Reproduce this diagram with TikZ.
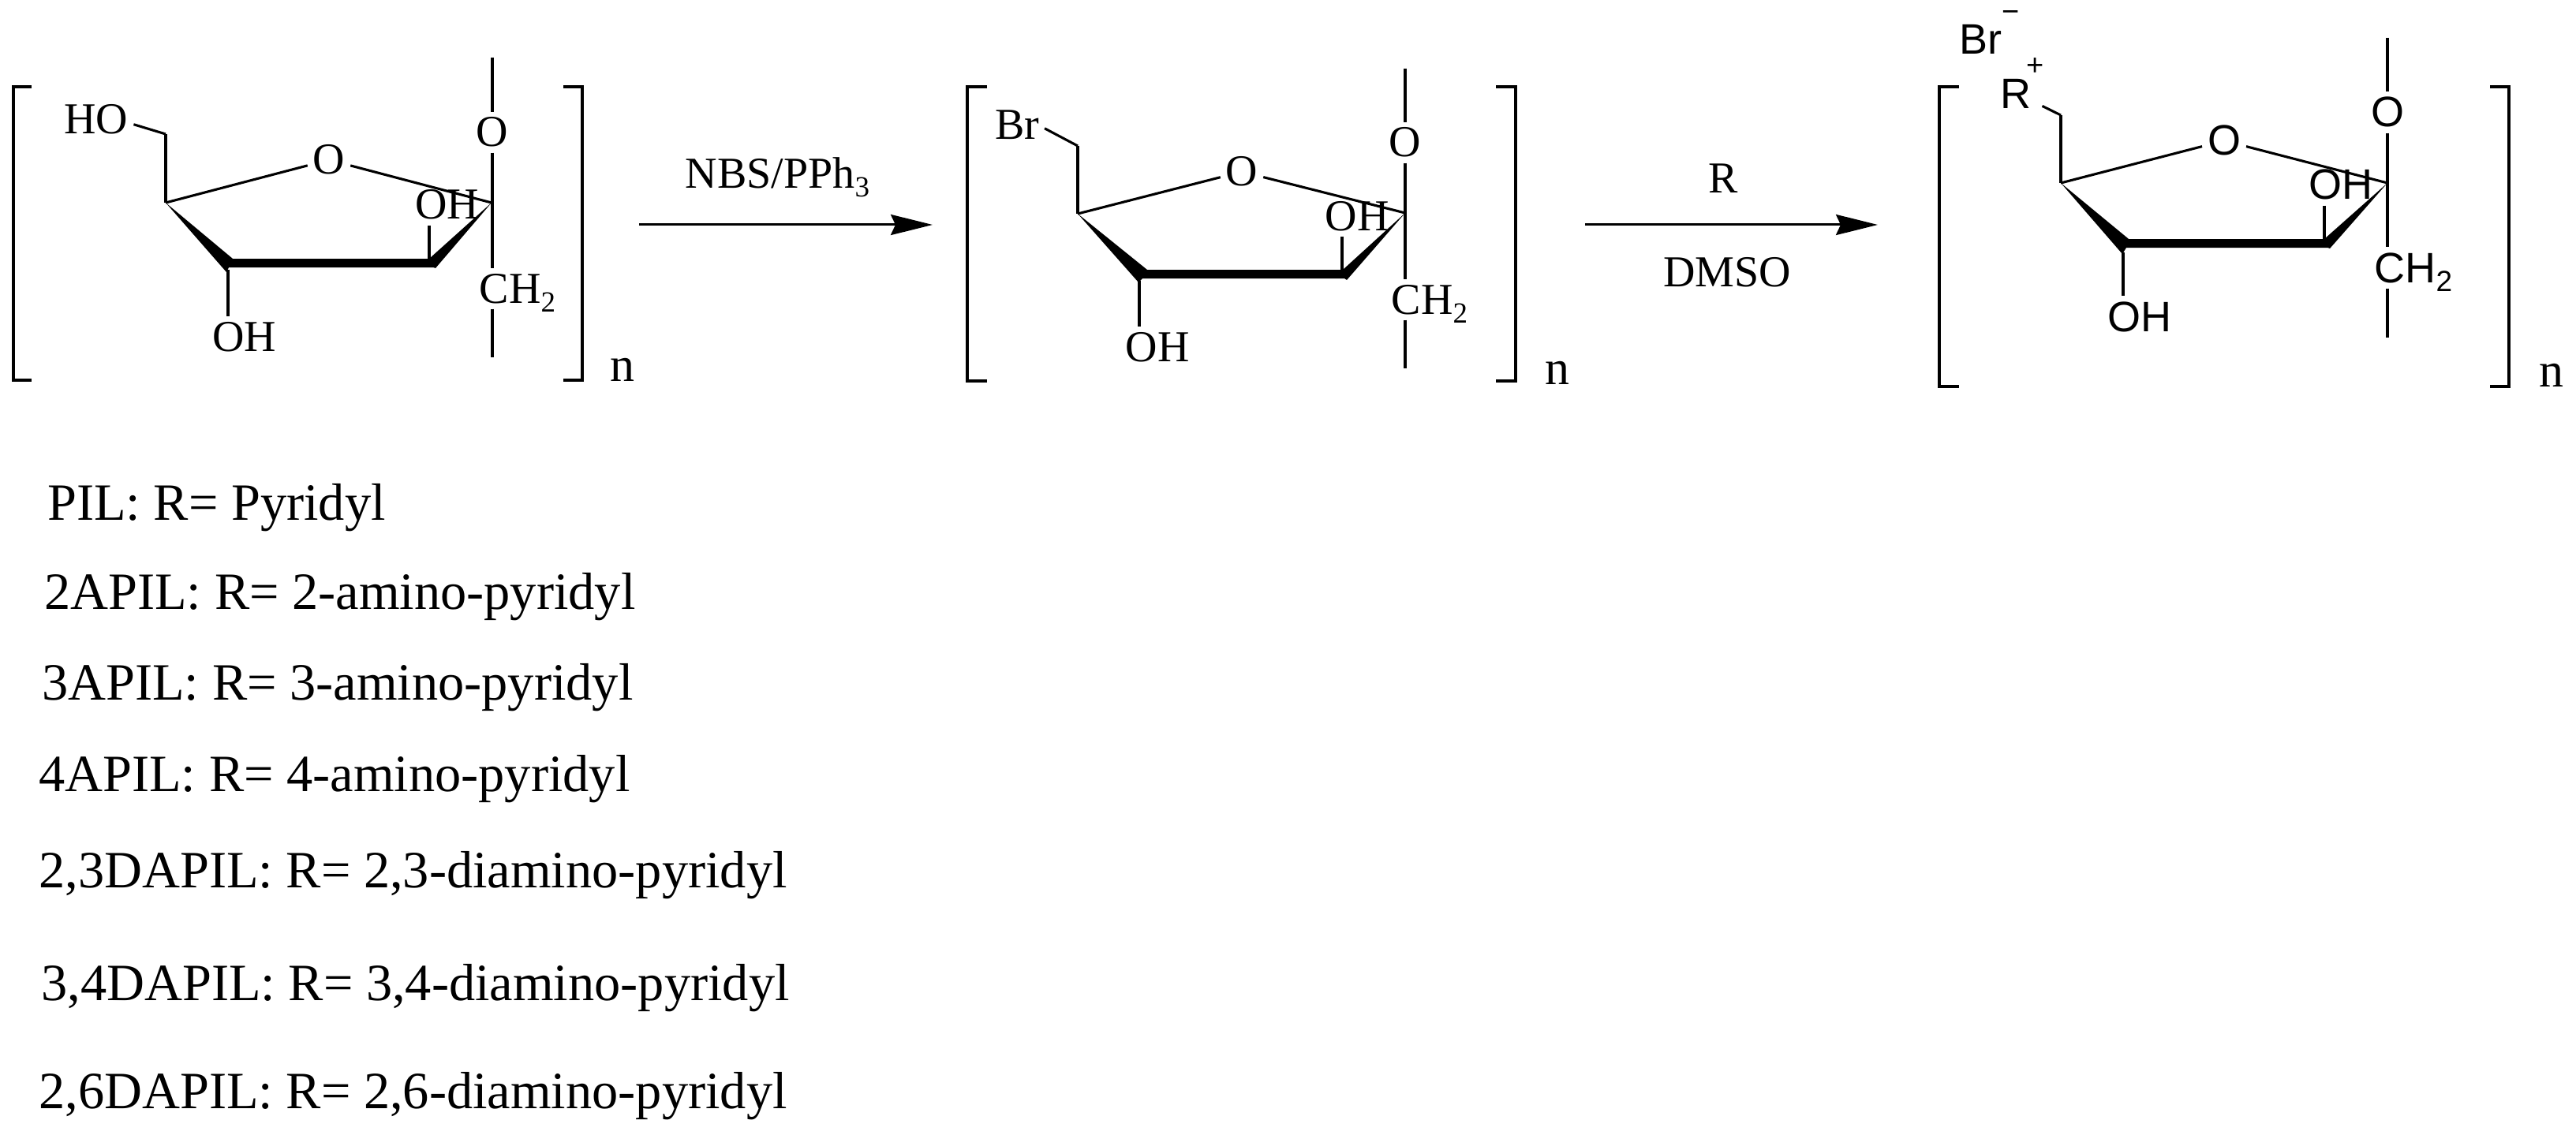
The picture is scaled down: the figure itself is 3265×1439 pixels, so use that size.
\documentclass[tikz,border=0pt]{standalone}
\usepackage{fontspec}
\usepackage{tikz}
\usetikzlibrary{arrows.meta}
\setmainfont{Liberation Serif}
\newfontfamily\arialfont{Liberation Sans}
\newcommand{\chemsize}{\fontsize{56}{60}\selectfont}
\newcommand{\listsize}{\fontsize{66.4}{70}\selectfont}
\newcommand{\subnum}[1]{\smash{\raisebox{-11pt}{\fontsize{37}{37}\selectfont #1}}}
\tikzset{
  lbl/.style={font=\chemsize, anchor=base, inner sep=7pt, outer sep=0pt},
  sanslbl/.style={font=\arialfont\fontsize{54}{60}\selectfont, anchor=base, inner sep=7pt, outer sep=0pt},
  charge/.style={font=\arialfont\fontsize{38}{40}\selectfont, inner sep=0pt},
  repeatn/.style={font=\fontsize{62}{66}\selectfont, anchor=base, inner sep=0pt},
  listline/.style={font=\listsize, anchor=base west, inner sep=0pt},
  bond/.style={line width=3.1pt},
  bracket/.style={line width=3.2pt, line cap=butt, line join=miter},
  wedge/.style={fill=black},
  reaction/.style={-{Stealth[length=53pt,width=26pt,inset=6pt]}, line width=3pt}
}

\begin{document}
\begin{tikzpicture}[x=1pt,y=-1pt]
      \useasboundingbox (0,0) rectangle (3265,1439);

      % first unit
      \coordinate (a1) at (210,170);
      \coordinate (c4a) at (210,257);
      \coordinate (c1a) at (623,257);
      \coordinate (j1) at (544,328);
      \coordinate (k1) at (289,342);
      \coordinate (e1) at (624,453);
      \node[lbl] (ho1) at (122,170) {HO};
      \node[lbl] (ro1) at (417,221) {O};
      \node[lbl] (to1) at (624,186) {O};
      \node[lbl] (uoh1) at (567,278) {OH};
      \node[lbl] (loh1) at (310,445) {OH};
      \node[lbl] (ch1) at (656,384) {CH\subnum{2}};
      \node[repeatn] (n1) at (789,483) {n};
      \coordinate (t1) at (624,73);

      \draw[bracket] (40,110) -- (17,110) -- (17,482) -- (40,482);
      \draw[bracket] (714,110) -- (738,110) -- (738,482) -- (714,482);
      \fill[wedge] (c4a) -- (295,328) -- (544,328) -- (c1a) -- (552,340) -- (549,339) -- (290,339) -- (287,345) -- cycle;
      \path[bond] ([yshift=-6pt]ho1.east) edge (a1);
      \path[bond] (a1) edge (c4a);
      \path[bond] (ro1) edge (c4a);
      \path[bond] (ro1) edge (c1a);
      \path[bond] (t1) edge (to1.north);
      \path[bond] (to1.south) edge (to1.south |- ch1.north);
      \path[bond] (e1 |- ch1.south) edge (e1);
      \path[bond] (j1 |- uoh1.south) edge (j1);
      \path[bond] (k1) edge (k1 |- loh1.north);

      % second unit
      \coordinate (a2) at (1366,185);
      \coordinate (c4b) at (1366,271);
      \coordinate (c1b) at (1781,270);
      \coordinate (j2) at (1701,342);
      \coordinate (k2) at (1444,356);
      \coordinate (e2) at (1781,467);
      \node[lbl] (br2) at (1289,177) {Br};
      \node[lbl] (ro2) at (1574,236) {O};
      \node[lbl] (to2) at (1781,199) {O};
      \node[lbl] (uoh2) at (1720,292) {OH};
      \node[lbl] (loh2) at (1467,458) {OH};
      \node[lbl] (ch2) at (1812,398) {CH\subnum{2}};
      \node[repeatn] (n2) at (1974,487) {n};
      \coordinate (t2) at (1781,87);

      \draw[bracket] (1251,110) -- (1226,110) -- (1226,483) -- (1251,483);
      \draw[bracket] (1896,110) -- (1921,110) -- (1921,483) -- (1896,483);
      \fill[wedge] (c4b) -- (1454,342) -- (1702,342) -- (c1b) -- (1707,355) -- (1704,353) -- (1448,353) -- (1443,358) -- cycle;
      \path[bond] ([yshift=-4pt]br2.east) edge (a2);
      \path[bond] (a2) edge (c4b);
      \path[bond] (ro2) edge (c4b);
      \path[bond] (ro2) edge (c1b);
      \path[bond] (t2) edge (to2.north);
      \path[bond] (to2.south) edge (to2.south |- ch2.north);
      \path[bond] (e2 |- ch2.south) edge (e2);
      \path[bond] (j2 |- uoh2.south) edge (j2);
      \path[bond] (k2) edge (k2 |- loh2.north);

      % third unit
      \coordinate (a3) at (2612,146);
      \coordinate (c4c) at (2612,232);
      \coordinate (c1c) at (3026,232);
      \coordinate (j3) at (2946,303);
      \coordinate (k3) at (2691,320);
      \coordinate (e3) at (3026,428);
      \node[sanslbl] (br3) at (2510,69) {Br};
      \node[charge] (minus3) at (2549,21) {−};
      \node[sanslbl] (r3) at (2555,138) {R};
      \node[charge] (plus3) at (2580,85) {+};
      \node[sanslbl] (ro3) at (2819,197) {O};
      \node[sanslbl] (to3) at (3026,161) {O};
      \node[sanslbl] (uoh3) at (2967,253) {OH};
      \node[sanslbl] (loh3) at (2712,420) {OH};
      \node[sanslbl] (ch3) at (3059,358) {CH\subnum{2}};
      \node[repeatn] (n3) at (3234,490) {n};
      \coordinate (t3) at (3026,48);

      \draw[bracket] (2483,110) -- (2458,110) -- (2458,490) -- (2483,490);
      \draw[bracket] (3156,110) -- (3180,110) -- (3180,490) -- (3156,490);
      \fill[wedge] (c4c) -- (2698,303) -- (2946,303) -- (c1c) -- (2953,315) -- (2950,314) -- (2695,314) -- (2690,322) -- cycle;
      \path[bond] ([xshift=7pt,yshift=-15pt]r3.east) edge (a3);
      \path[bond] (a3) edge (c4c);
      \path[bond] (ro3) edge (c4c);
      \path[bond] (ro3) edge (c1c);
      \path[bond] (t3) edge (to3.north);
      \path[bond] (to3.south) edge (to3.south |- ch3.north);
      \path[bond] (e3 |- ch3.south) edge (e3);
      \path[bond] (j3 |- uoh3.south) edge (j3);
      \path[bond] (k3) edge (k3 |- loh3.north);

      % reaction arrows
      \coordinate (s1) at (810,285);
      \coordinate (f1) at (1182,285);
      \coordinate (s2) at (2009,285);
      \coordinate (f2) at (2380,285);
      \path[reaction] (s1) edge node[lbl, pos=.472, yshift=46pt] (nbs) {NBS/PPh\subnum{3}} (f1);
      \path[reaction] (s2) edge node[lbl, pos=.472, yshift=40pt] (rgt) {R}
                                node[lbl, pos=.485, yshift=-78pt] (dmso) {DMSO} (f2);

      % list of R groups
      \node[listline] (l1) at (60,659) {PIL: R= Pyridyl};
      \node[listline] (l2) at (56,772) {2APIL: R= 2-amino-pyridyl};
      \node[listline] (l3) at (53,887) {3APIL: R= 3-amino-pyridyl};
      \node[listline] (l4) at (49,1003) {4APIL: R= 4-amino-pyridyl};
      \node[listline] (l5) at (49,1125) {2,3DAPIL: R= 2,3-diamino-pyridyl};
      \node[listline] (l6) at (52,1268) {3,4DAPIL: R= 3,4-diamino-pyridyl};
      \node[listline] (l7) at (49,1405) {2,6DAPIL: R= 2,6-diamino-pyridyl};
\end{tikzpicture}
\end{document}
